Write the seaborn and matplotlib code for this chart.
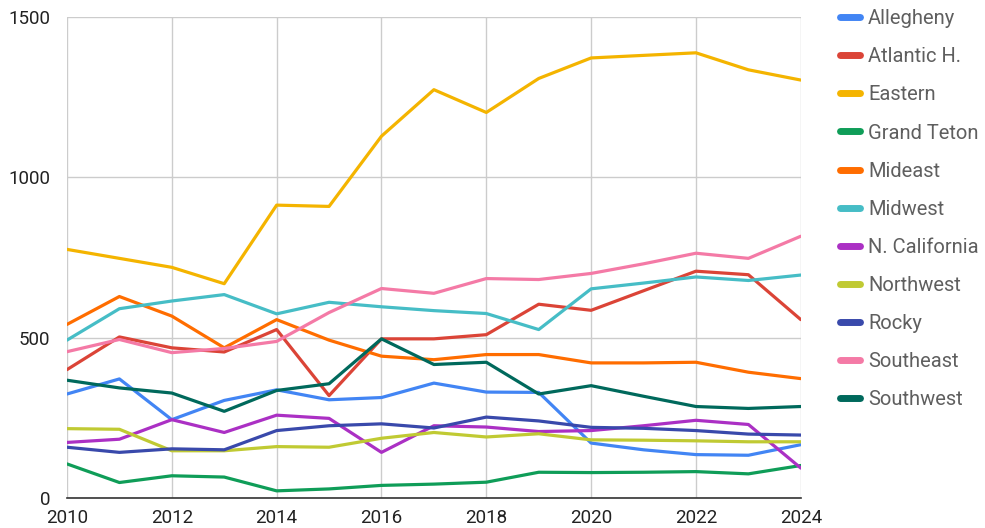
import matplotlib
matplotlib.use("Agg")
import matplotlib.pyplot as plt
import seaborn as sns
import pandas as pd

years = list(range(2010, 2025))

allegheny = [324, 371, 244, 304, 337, 306, 313, 358, 330, 329, 171, 150, 135, 133, 166]
atlantic_h = [400, 502, 468, 455, 525, 319, 496, 496, 509, 604, 585, 646, 707, 696, 556]
eastern = [775, 747, 719, 668, 913, 909, 1128, 1273, 1202, 1308, 1372, 1380, 1388, 1335, 1303]
grand_teton = [106, 48, 69, 65, 22, 28, 39, 43, 49, 80, 79, 80, 82, 75, 101]
mideast = [541, 628, 567, 468, 556, 492, 442, 431, 447, 447, 421, 421, 423, 392, 372]
midwest = [492, 590, 614, 634, 574, 610, 596, 584, 575, 525, 652, 670, 689, 678, 695]
n_california = [173, 183, 244, 204, 258, 248, 142, 225, 221, 207, 210, 225, 242, 229, 93]
northwest = [216, 214, 147, 147, 160, 158, 186, 204, 190, 200, 181, 180, 178, 175, 175]
rocky = [158, 142, 153, 150, 210, 225, 231, 218, 252, 240, 220, 217, 210, 199, 196]
southeast = [456, 494, 453, 466, 488, 578, 653, 638, 684, 681, 700, 730, 763, 747, 816]
southwest = [367, 343, 327, 270, 335, 356, 496, 416, 423, 324, 350, 317, 285, 279, 285]

regions = ["Allegheny", "Atlantic H.", "Eastern", "Grand Teton", "Mideast", "Midwest",
           "N. California", "Northwest", "Rocky", "Southeast", "Southwest"]
series = [allegheny, atlantic_h, eastern, grand_teton, mideast, midwest,
          n_california, northwest, rocky, southeast, southwest]
colors = ["#4285F4", "#DB4437", "#F4B400", "#0F9D58", "#FF6D00", "#46BDC6",
          "#AB30C4", "#C0CA33", "#3949AB", "#F47AA6", "#00695C"]

rows = []
for name, vals in zip(regions, series):
    for y, v in zip(years, vals):
        rows.append({"year": y, "value": v, "region": name})
df = pd.DataFrame(rows)

sns.set_style("white")
plt.rcParams["font.family"] = ["Roboto", "DejaVu Sans"]

fig = plt.figure(figsize=(9.85, 5.28), dpi=100)
ax = fig.add_axes([0.068, 0.057, 0.745, 0.911])

sns.lineplot(data=df, x="year", y="value", hue="region", hue_order=regions,
             palette=colors, linewidth=2.3, ax=ax, legend=False)

ax.set_xlim(2010, 2024)
ax.set_ylim(0, 1500)
ax.set_xticks(range(2010, 2025, 2))
ax.set_yticks([0, 500, 1000, 1500])
ax.grid(True, color="#cccccc", linewidth=1)
ax.set_axisbelow(True)
ax.set_xlabel("")
ax.set_ylabel("")
for s in ["top", "right", "left"]:
    ax.spines[s].set_visible(False)
ax.spines["bottom"].set_color("#333333")
ax.spines["bottom"].set_linewidth(1.2)
ax.tick_params(axis="both", length=0, labelsize=13.5, labelcolor="#222222")
ax.tick_params(axis="y", pad=12)
ax.tick_params(axis="x", pad=8)

handles = [plt.Line2D([0], [0], color=c, linewidth=5) for c in colors]
fig.legend(handles, regions, loc="upper left", bbox_to_anchor=(0.834, 1.017),
           frameon=False, fontsize=14.5, labelcolor="#5f5f5f",
           handlelength=1.0, handletextpad=0.42, labelspacing=0.95)

fig.savefig("out.png", dpi=100)
